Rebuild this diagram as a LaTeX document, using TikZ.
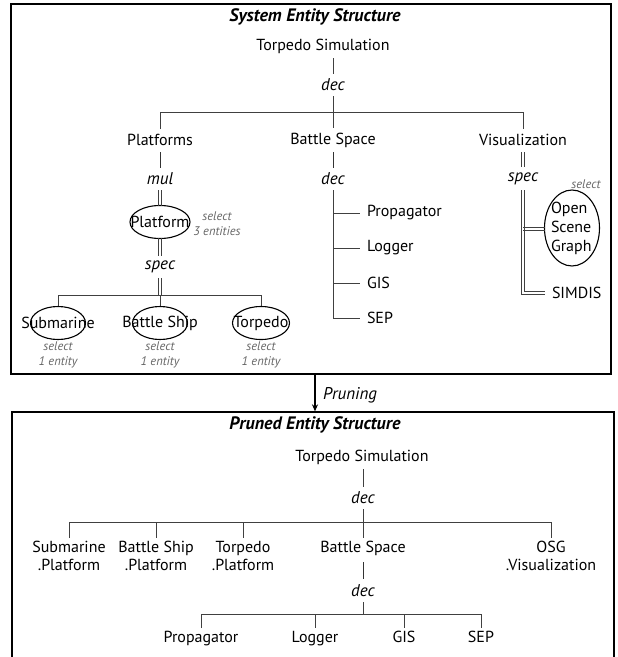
\documentclass[tikz,border=0pt]{standalone}
\usepackage{fontspec}
\setmainfont{PT Sans}
\usetikzlibrary{arrows.meta,shapes.geometric}
\begin{document}
\begin{tikzpicture}[x=1pt,y=-1pt,
  lbl/.style={font=\fontsize{16}{18}\selectfont, inner sep=0pt, outer sep=5pt},
  lbltwo/.style={font=\fontsize{16}{18}\selectfont, inner sep=0pt, outer sep=3pt, align=center, anchor=north},
  op/.style={font=\itshape\fontsize{17}{19}\selectfont, inner sep=0pt, outer sep=5pt},
  leaf/.style={font=\fontsize{16}{19}\selectfont, inner sep=0pt, outer sep=0pt, anchor=west},
  hdr/.style={font=\bfseries\itshape\fontsize{18}{20}\selectfont, inner sep=0pt},
  note/.style={font=\itshape\fontsize{12.5}{15}\selectfont, text=black!60, align=center, inner sep=0pt},
  ln/.style={draw=black!75, line width=0.8pt},
  stub/.style={draw=black!80, line width=1.2pt},
  strand/.style={draw=black!75, line width=0.7pt},
  oval/.style={draw=black, line width=1.1pt, ellipse, inner sep=0pt},
  frame/.style={draw=black, line width=1.3pt, rectangle, inner sep=0pt}]
\useasboundingbox (0,0) rectangle (618,657);

% ---------------- frames ----------------
\node[frame, minimum width=600pt, minimum height=370pt] (sesbox) at (311,189) {};
\node[frame, minimum width=602pt, minimum height=258pt] (pesbox) at (313,541) {};
\coordinate (arrx) at (315,0);
\draw[line width=1.2pt, -{Stealth[length=7pt,width=6pt]}] (sesbox.south -| arrx) -- (pesbox.north -| arrx);
\node[op, anchor=west, outer sep=0pt] (prune) at (323,395) {Pruning};

% ---------------- system entity structure ----------------
\node[hdr] (sestitle) at (315,17) {System Entity Structure};
\node[lbl] (ts) at (323,46) {Torpedo Simulation};
\node[op] (dec1) at (333,85) {dec};
\draw[ln] (ts.south -| dec1.north) -- (dec1.north);
\coordinate (bus1) at (333,112);
\draw[ln] (dec1) -- (bus1);

\node[lbl] (plats) at (160,140) {Platforms};
\node[lbl] (bspace) at (333,140) {Battle Space};
\node[lbl] (visual) at (523,140) {Visualization};
\node[op] (mul) at (160,179) {mul};
\node[op] (dec2) at (333,179) {dec};
\node[op] (spec2) at (523,179) {spec};
\draw[ln] (plats.north) -- (plats.north |- bus1) -- (visual.north |- bus1) -- (visual.north);
\draw[ln] (bus1) -- (bspace.north);

% stubs between the entity names and their aspect labels
\coordinate (platsB) at (160.4,152);  \coordinate (mulT) at (160.4,168);
\coordinate (bspaceB) at (333.4,152); \coordinate (dec2T) at (333.4,168);
\coordinate (visualB) at (523,152);   \coordinate (spec2T) at (523,167);
\draw[stub] (platsB) -- (mulT);
\draw[stub] (bspaceB) -- (dec2T);
\draw[strand] ([xshift=-1.2pt]visualB) -- ([xshift=-1.2pt]spec2T);
\draw[strand] ([xshift=1.2pt]visualB) -- ([xshift=1.2pt]spec2T);

% Platforms branch
\node[oval, minimum width=60pt, minimum height=33pt] (pfov) at (160,222) {};
\node[lbl, outer sep=0pt] (pf) at (pfov) {Platform};
\node[note] (sel3) at (217,224) {select\\3 entities};
\node[op] (spec1) at (160,267) {spec};
\coordinate (mulB) at (160,190);   \coordinate (pfT) at (160,206);
\coordinate (pfB) at (160,238);    \coordinate (spec1T) at (160,256);
\coordinate (spec1B) at (160,278); \coordinate (bus2) at (160,295);
\draw[strand] ([xshift=-1.2pt]mulB) -- ([xshift=-1.2pt]pfT);
\draw[strand] ([xshift=1.2pt]mulB) -- ([xshift=1.2pt]pfT);
\draw[strand] ([xshift=-1.2pt]pfB) -- ([xshift=-1.2pt]spec1T);
\draw[strand] ([xshift=1.2pt]pfB) -- ([xshift=1.2pt]spec1T);
\draw[strand] ([xshift=-1.2pt]spec1B) -- ([xshift=-1.2pt]bus2);
\draw[strand] ([xshift=1.2pt]spec1B) -- ([xshift=1.2pt]bus2);

\node[oval, minimum width=55pt, minimum height=33pt] (subov) at (58,323) {};
\node[oval, minimum width=55pt, minimum height=33pt] (bshov) at (160,323) {};
\node[oval, minimum width=57pt, minimum height=33pt] (torov) at (261,323) {};
\node[lbl, outer sep=0pt] (sub) at (subov) {Submarine};
\node[lbl, outer sep=0pt] (bship) at (bshov) {Battle Ship};
\node[lbl, outer sep=0pt] (torp) at (torov) {Torpedo};
\draw[ln] (subov.north) -- (subov.north |- bus2) -- (torov.north |- bus2) -- (torov.north);
\draw[ln] (bus2) -- (bshov.north);
\node[note] (selsub) at (58,355) {select\\1 entity};
\node[note] (selbsh) at (160,355) {select\\1 entity};
\node[note] (seltor) at (261,355) {select\\1 entity};

% Battle Space branch
\node[leaf] (prop) at (367,213) {Propagator};
\node[leaf] (logger) at (367,248) {Logger};
\node[leaf] (gis) at (367,283) {GIS};
\node[leaf] (sep) at (367,318) {SEP};
\draw[ln] (dec2.south) |- ([xshift=-7pt]sep.west);
\draw[ln] (dec2.south |- prop.west) -- ([xshift=-7pt]prop.west);
\draw[ln] (dec2.south |- logger.west) -- ([xshift=-7pt]logger.west);
\draw[ln] (dec2.south |- gis.west) -- ([xshift=-7pt]gis.west);

% Visualization branch
\node[oval, minimum width=55pt, minimum height=76pt] (osgov) at (572,228) {};
\node[leaf, align=left] (osg) at (551,228) {Open\\Scene\\Graph};
\node[note] (selosg) at (586,184) {select};
\node[leaf] (simdis) at (552,293) {SIMDIS};
\coordinate (spec2B) at (523,190);
\coordinate (simT) at (545,293);
\coordinate (osgL) at (544.5,229);
\draw[strand] ([xshift=-1.2pt]spec2B) |- ([yshift=-1.2pt]simT);
\draw[strand] ([xshift=1.2pt]spec2B) |- ([yshift=1.2pt]simT);
\draw[strand] ([yshift=-1.2pt]osgL) -- ([yshift=-1.2pt]spec2B |- osgL);
\draw[strand] ([yshift=1.2pt]osgL) -- ([yshift=1.2pt]spec2B |- osgL);

% ---------------- pruned entity structure ----------------
\node[hdr] (pestitle) at (315,425) {Pruned Entity Structure};
\node[lbl] (ts2) at (362,457) {Torpedo Simulation};
\node[op] (dec3) at (363,498) {dec};
\draw[ln] (ts2.south -| dec3.north) -- (dec3.north);
\coordinate (bus3) at (363,522);
\draw[ln] (dec3) -- (bus3);

\node[lbltwo] (subp) at (69,538) {Submarine\\.Platform};
\node[lbltwo] (bshp) at (156,538) {Battle Ship\\.Platform};
\node[lbltwo] (torpp) at (243,538) {Torpedo\\.Platform};
\node[lbltwo] (bspace2) at (363,538) {Battle Space};
\node[lbltwo] (osgvis) at (551,538) {OSG\\.Visualization};
\node[op] (dec4) at (363,591) {dec};
\draw[ln] (subp.north) -- (subp.north |- bus3) -- (osgvis.north |- bus3) -- (osgvis.north);
\draw[ln] (bshp.north |- bus3) -- (bshp.north);
\draw[ln] (torpp.north |- bus3) -- (torpp.north);
\draw[ln] (bus3) -- (bspace2.north);
\coordinate (bspace2B) at (363.4,562); \coordinate (dec4T) at (363.4,579);
\draw[stub] (bspace2B) -- (dec4T);

\coordinate (bus4) at (363,614);
\draw[ln] (dec4) -- (bus4);
\node[lbltwo] (prop2) at (201,628) {Propagator};
\node[lbltwo] (log2) at (315,628) {Logger};
\node[lbltwo] (gis2) at (404,628) {GIS};
\node[lbltwo] (sep2) at (481,628) {SEP};
\draw[ln] (prop2.north) -- (prop2.north |- bus4) -- (sep2.north |- bus4) -- (sep2.north);
\draw[ln] (log2.north |- bus4) -- (log2.north);
\draw[ln] (gis2.north |- bus4) -- (gis2.north);
\end{tikzpicture}
\end{document}
